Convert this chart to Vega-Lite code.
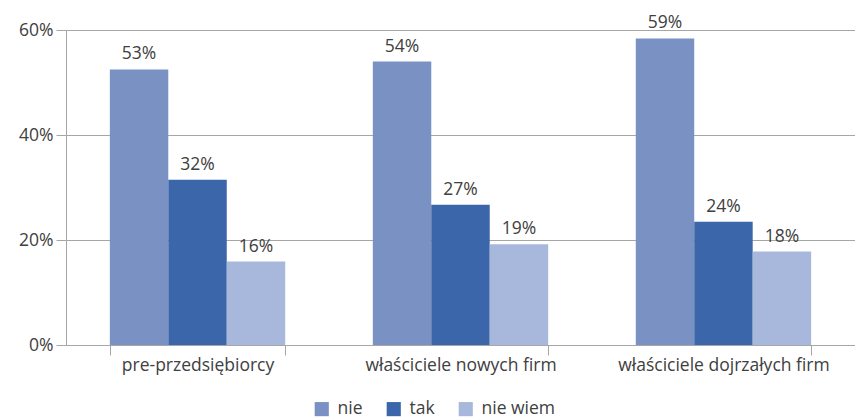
{
  "$schema": "https://vega.github.io/schema/vega-lite/v6.json",
  "autosize": {"type": "none"},
  "width": 789,
  "height": 315,
  "padding": {"left": 66, "top": 30, "right": 0, "bottom": 75},
  "background": "white",
  "config": {
    "font": "Open Sans",
    "view": {"stroke": null}
  },
  "data": {
    "values": [
      {"grupa": "pre-przedsiębiorcy", "odp": "nie", "v": 52.5, "label": "53%"},
      {"grupa": "pre-przedsiębiorcy", "odp": "tak", "v": 31.5, "label": "32%"},
      {"grupa": "pre-przedsiębiorcy", "odp": "nie wiem", "v": 15.9, "label": "16%"},
      {"grupa": "właściciele nowych firm", "odp": "nie", "v": 54.0, "label": "54%"},
      {"grupa": "właściciele nowych firm", "odp": "tak", "v": 26.7, "label": "27%"},
      {"grupa": "właściciele nowych firm", "odp": "nie wiem", "v": 19.2, "label": "19%"},
      {"grupa": "właściciele dojrzałych firm", "odp": "nie", "v": 58.4, "label": "59%"},
      {"grupa": "właściciele dojrzałych firm", "odp": "tak", "v": 23.5, "label": "24%"},
      {"grupa": "właściciele dojrzałych firm", "odp": "nie wiem", "v": 17.8, "label": "18%"}
    ]
  },
  "encoding": {
    "x": {
      "field": "grupa", "type": "nominal", "sort": null,
      "scale": {"paddingInner": 0.333, "paddingOuter": 0.1667},
      "axis": {
        "title": null, "labelAngle": 0, "labelFontSize": 17.5, "labelColor": "#404040",
        "labelPadding": 1, "labelLimit": 400, "tickBand": "extent", "tickSize": 10, "tickColor": "#a6a6a6",
        "domainColor": "#a6a6a6", "labelFont": "Open Sans"
      }
    },
    "xOffset": {"field": "odp", "type": "nominal", "sort": ["nie", "tak", "nie wiem"], "scale": {"paddingInner": 0, "paddingOuter": 0}},
    "y": {
      "field": "v", "type": "quantitative",
      "scale": {"domain": [0, 60], "nice": false},
      "axis": {
        "title": null, "values": [0, 20, 40, 60], "labelExpr": "datum.value + '%'",
        "labelFontSize": 17.5, "labelColor": "#404040", "tickSize": 10, "tickColor": "#a6a6a6",
        "domainColor": "#a6a6a6", "gridColor": "#a6a6a6", "labelPadding": 3, "labelFont": "Open Sans"
      }
    }
  },
  "layer": [
    {
      "mark": {"type": "bar"},
      "encoding": {
        "color": {
          "field": "odp", "type": "nominal", "sort": ["nie", "tak", "nie wiem"],
          "scale": {"domain": ["nie", "tak", "nie wiem"], "range": ["#7a91c4", "#3b67aa", "#a8b8dc"]},
          "legend": {
            "title": null, "orient": "none", "direction": "horizontal",
            "legendX": 247, "legendY": 370, "symbolType": "square", "symbolSize": 200,
            "symbolStrokeWidth": 0, "labelFontSize": 17.5, "labelColor": "#404040",
            "columnPadding": 22, "labelOffset": 7, "labelFont": "Open Sans"
          }
        }
      }
    },
    {
      "mark": {"type": "text", "baseline": "bottom", "dy": -6, "fontSize": 17.5, "color": "#404040"},
      "encoding": {"text": {"field": "label"}}
    }
  ]
}
